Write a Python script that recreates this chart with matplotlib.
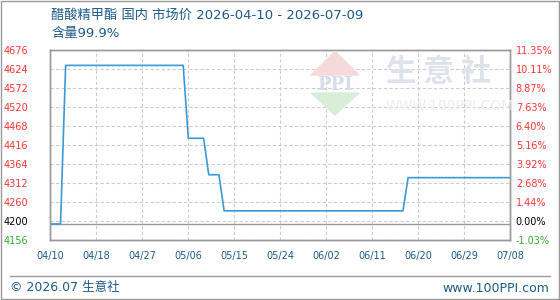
import matplotlib
matplotlib.use("Agg")
import matplotlib.pyplot as plt
from matplotlib.patches import Polygon, Rectangle
from matplotlib.lines import Line2D

plt.rcParams["font.family"] = ["DejaVu Sans", "Noto Sans CJK SC"]

# data: day offset from 2026-04-10 and price (yuan/ton)
days = [0, 2, 3, 26, 27, 30, 31, 33, 34, 69, 70, 90]
prices = [4200, 4200, 4635, 4635, 4435, 4435, 4335, 4335, 4236, 4236, 4327, 4327]

x_ticks = [0, 9, 18, 27, 36, 45, 54, 63, 72, 81, 90]
x_labels = ["04/10", "04/18", "04/27", "05/06", "05/15", "05/24",
            "06/02", "06/11", "06/20", "06/29", "07/08"]

y_ticks = [4156, 4208, 4260, 4312, 4364, 4416, 4468, 4520, 4572, 4624, 4676]
y_labels = ["4156", "4200", "4260", "4312", "4364", "4416",
            "4468", "4520", "4572", "4624", "4676"]
pct_labels = ["-1.03%", "0.00%", "1.44%", "2.68%", "3.92%", "5.16%",
              "6.40%", "7.63%", "8.87%", "10.11%", "11.35%"]
base_price = 4200

title = "醋酸精甲酯 国内 市场价 2026-04-10 - 2026-07-09"
subtitle = "含量99.9%"

blue = "#3a9ad8"
navy = "#1d5a8a"
red = "#ff3333"
green = "#33aa33"

fig = plt.figure(figsize=(5.6, 3.0), dpi=100)
ax = fig.add_axes([50.3 / 560, 60 / 300, 460 / 560, 190.3 / 300])


def fx(px):
    return px / 560


def fy(py):
    return 1 - py / 300


# watermark
fig.patches.append(Polygon([(fx(335), fy(51.5)), (fx(311), fy(75)), (fx(359), fy(75))],
                           closed=True, transform=fig.transFigure, color="#f6d9d9", zorder=0))
fig.patches.append(Polygon([(fx(311), fy(93)), (fx(359), fy(93)), (fx(335), fy(115))],
                           closed=True, transform=fig.transFigure, color="#d9eed9", zorder=0))
fig.text(fx(335), fy(85), "PPI", ha="center", va="center", fontsize=13,
         color="#d6dce8", family="DejaVu Serif", weight="bold", zorder=0)
fig.text(fx(386), fy(72), "生 意 社", ha="left", va="center", fontsize=22,
         color="#dde2ec", weight="bold", family="Noto Sans CJK SC", zorder=0)
fig.text(fx(386), fy(106), "WWW.100PPI.COM", ha="left", va="center", fontsize=10,
         color="#eeeeee", zorder=0)
ax.set_facecolor("none")

ax.plot(days, prices, color=blue, lw=1.2, zorder=3)
ax.axhline(base_price, color="#999999", lw=1.0, zorder=2)

ax.set_xlim(0, 90)
ax.set_ylim(4156, 4678)
ax.set_xticks(x_ticks)
ax.set_xticklabels(x_labels, fontsize=7, color=navy)
ax.set_yticks(y_ticks)
ax.set_yticklabels(y_labels, fontsize=7)
ax.tick_params(axis="y", length=0, pad=16)
ax.tick_params(axis="x", length=0, pad=8)
for lbl in ax.get_yticklabels():
    lbl.set_color(red)
ax.get_yticklabels()[0].set_color(green)
ax.get_yticklabels()[1].set_color("black")
ax.grid(True, color="#cccccc", ls=(0, (3, 2)), lw=0.8)

ax2 = ax.twinx()
ax2.set_ylim(ax.get_ylim())
ax2.set_yticks(y_ticks)
ax2.set_yticklabels(pct_labels, fontsize=7)
ax2.tick_params(length=0, pad=4)
for lbl in ax2.get_yticklabels():
    lbl.set_color(red)
ax2.get_yticklabels()[0].set_color(green)
ax2.get_yticklabels()[1].set_color("black")

for a in (ax, ax2):
    for s in a.spines.values():
        s.set_color("#999999")
        s.set_linewidth(1.0)

fig.text(fx(51), fy(15), title, ha="left", va="center", fontsize=9.5, color=navy)
fig.text(fx(51), fy(34), subtitle, ha="left", va="center", fontsize=9.5, color=navy)

# footer
fig.add_artist(Line2D([fx(10), fx(550)], [fy(276), fy(276)], color="#999999", lw=1.0))
fig.text(fx(10), fy(288), "© 2026.07 生意社", ha="left", va="center", fontsize=9, color=navy)
fig.text(fx(549), fy(288), "www.100PPI.com", ha="right", va="center", fontsize=9,
         color=navy)
fig.patches.append(Rectangle((0.0009, 0.0017), 0.9982, 0.9966, transform=fig.transFigure,
                             fill=False, edgecolor="#999999", lw=1.0))

fig.savefig("out.png", dpi=100)
